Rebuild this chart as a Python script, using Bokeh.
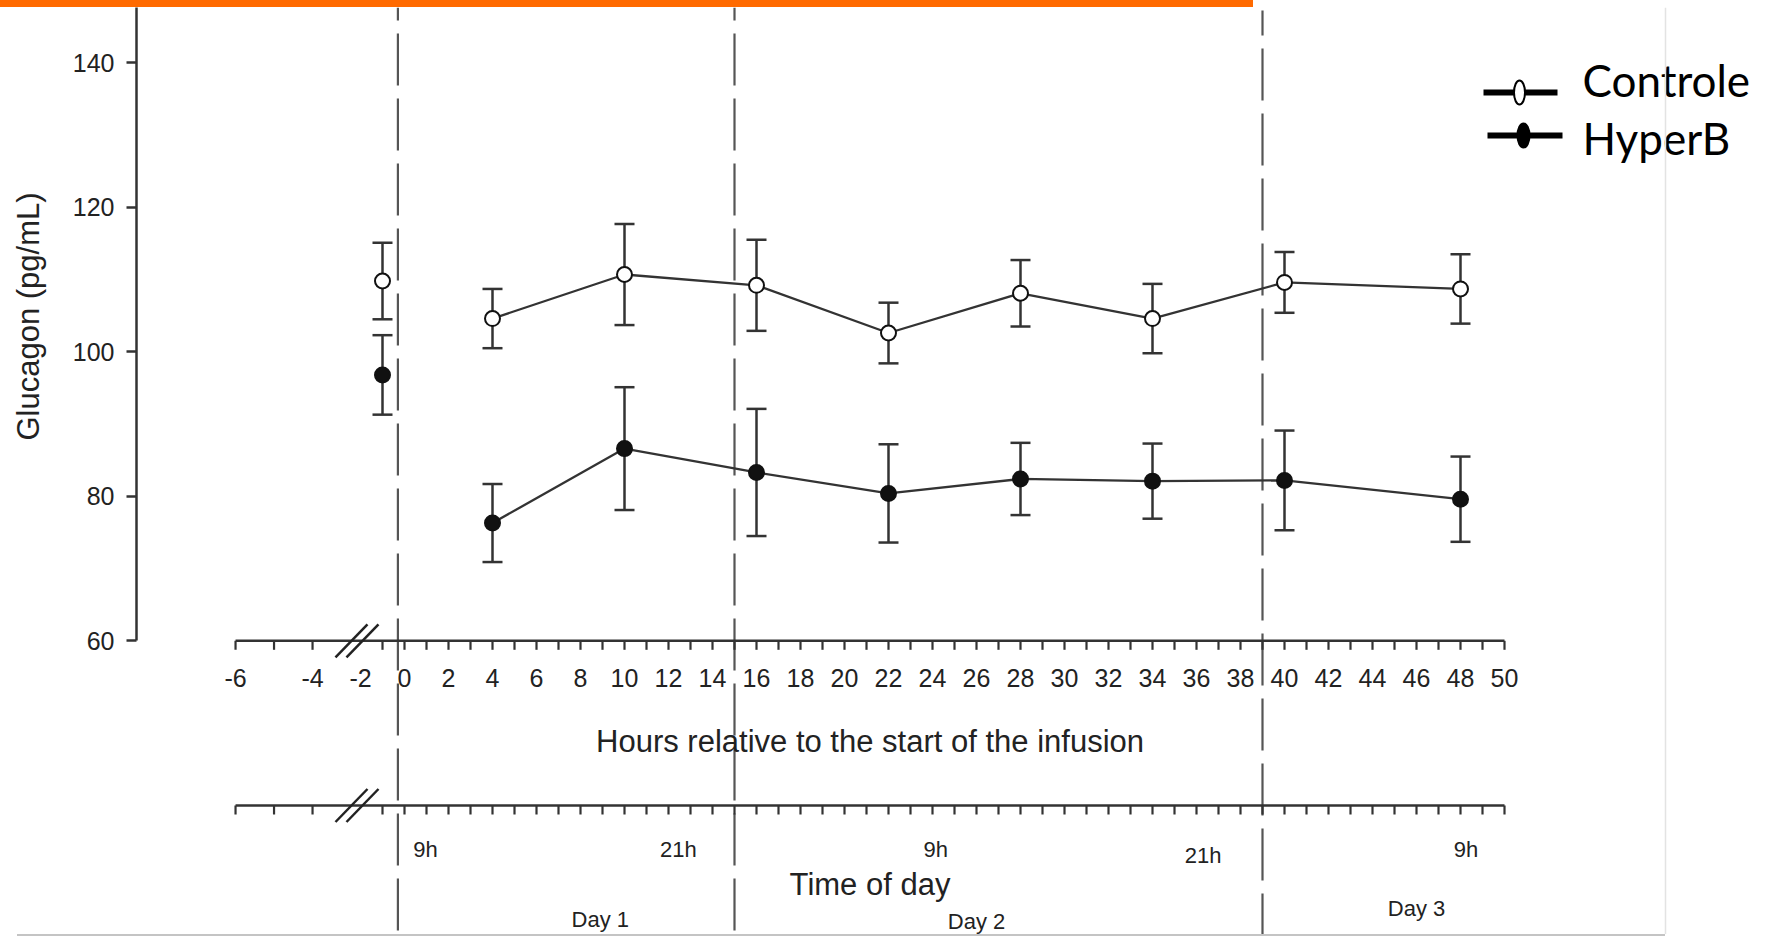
import numpy as np
from bokeh.plotting import figure
from bokeh.models import Range1d, ColumnDataSource, Whisker, TeeHead, FixedTicker, Div
from bokeh.layouts import column, row
from bokeh.core.properties import value
from bokeh.embed import file_html
from bokeh.resources import INLINE

# ---------------------------------------------------------------- data
# sampling times, hours relative to the start of the infusion
hours = [-1, 4, 10, 16, 22, 28, 34, 40, 48]
controle_mean = [109.8, 104.6, 110.7, 109.2, 102.6, 108.1, 104.6, 109.6, 108.7]
controle_sem = [5.3, 4.1, 7.0, 6.3, 4.2, 4.6, 4.8, 4.2, 4.8]
hyperb_mean = [96.8, 76.3, 86.6, 83.3, 80.4, 82.4, 82.1, 82.2, 79.6]
hyperb_sem = [5.5, 5.4, 8.5, 8.8, 6.8, 5.0, 5.2, 6.9, 5.9]

series_names = ["Controle", "HyperB"]

y_ticks = [60, 80, 100, 120, 140]
hour_ticks = [-6, -5, -4, -1] + list(range(0, 51))
hour_tick_labels = [-6, -4, -2] + list(range(0, 51, 2))
day_boundaries = [-0.3, 15, 39]          # infusion start, midnight, midnight
tod_labels = ["9h", "21h", "9h", "21h", "9h"]
tod_label_hours = [0.95, 12.45, 24.15, 36.3, 48.25]
day_labels = ["Day 1", "Day 2", "Day 3"]
day_label_hours = [8.9, 26.0, 46.0]

# ---------------------------------------------------------------- geometry
W, H = 1775, 937
TOP = 7                 # orange rule above the chart
MAIN_H = 927
LABEL_W = 60            # strip holding the vertical y-axis title
FRAME_LEFT = 136
X_ZERO = 404            # canvas x of hour 0
PX_PER_HOUR = 22.0
Y140 = 62.3             # canvas y of 140 pg/mL
PX_PER_UNIT = 7.225
FONT = "Liberation Sans"
INK = "#333333"
TXT = "#222222"


def hx(h):
    """Broken hour axis: the pre-infusion stretch (< -3 h) uses a wider scale."""
    h = np.asarray(h, dtype=float)
    return np.where(h < -3, -4.18 + (h + 4) * 1.75, h)


def canvas_x(h):
    return X_ZERO + PX_PER_HOUR * hx(h)


y_top = 140 + (Y140 - TOP) / PX_PER_UNIT
y_bot = 140 - (TOP + MAIN_H - Y140) / PX_PER_UNIT
y60 = Y140 + (140 - 60) * PX_PER_UNIT       # canvas y of the hour axis
y_tod = 805                                  # canvas y of the time-of-day axis

# ---------------------------------------------------------------- y title strip
lab = figure(width=LABEL_W, height=MAIN_H,
             x_range=Range1d(0, LABEL_W), y_range=Range1d(TOP + MAIN_H, TOP),
             output_backend="svg", toolbar_location=None,
             x_axis_location=None, y_axis_location=None,
             min_border=0, outline_line_color=None,
             background_fill_color="white", border_fill_color="white")
lab.grid.visible = False
lab.text(x=[28], y=[316], text=["Glucagon (pg/mL)"], angle=np.pi / 2,
         text_font=value(FONT), text_font_size="31px", text_color=TXT,
         text_align="center", text_baseline="middle")

# ---------------------------------------------------------------- main plot
p = figure(width=W - LABEL_W, height=MAIN_H,
           x_range=Range1d((FRAME_LEFT - X_ZERO) / PX_PER_HOUR, (W - X_ZERO) / PX_PER_HOUR),
           y_range=Range1d(y_bot, y_top),
           output_backend="svg", toolbar_location=None,
           x_axis_location=None, y_axis_location="left",
           min_border=0, min_border_left=FRAME_LEFT - LABEL_W,
           outline_line_color=None, background_fill_color="white",
           border_fill_color="white")
p.extra_x_ranges = {"px": Range1d(FRAME_LEFT, W)}
p.extra_y_ranges = {"px": Range1d(TOP + MAIN_H, TOP)}
p.grid.visible = False

ya = p.yaxis[0]
ya.ticker = FixedTicker(ticks=y_ticks)
ya.bounds = (60, y_top)
ya.axis_line_color = INK
ya.axis_line_width = 2.5
ya.major_tick_out = 10
ya.major_tick_in = 0
ya.major_tick_line_color = INK
ya.major_tick_line_width = 2.5
ya.minor_tick_line_color = None
ya.major_label_text_font = FONT
ya.major_label_text_font_size = "25px"
ya.major_label_text_color = TXT
ya.major_label_standoff = 12

# ---------------------------------------------------------------- day boundaries
dash_start = [TOP, TOP, 10]
dash_offset = [39, 39, 27]
for hb, y0, off in zip(day_boundaries, dash_start, dash_offset):
    p.segment(x0=[hb], y0=[y0], x1=[hb], y1=[934], y_range_name="px",
              line_color="#555555", line_width=2.2, line_dash="52 13",
              line_dash_offset=off)

# ---------------------------------------------------------------- horizontal axes
tick_x = hx(hour_ticks)
x_mid = float((hx(-6) + hx(50)) / 2)
for ay in (y60, y_tod):
    p.segment(x0=[hx(-6)], y0=[ay], x1=[hx(50)], y1=[ay], y_range_name="px",
              line_color=INK, line_width=2.5)
    p.segment(x0=tick_x, y0=[ay] * len(tick_x), x1=tick_x, y1=[ay + 9] * len(tick_x),
              y_range_name="px", line_color=INK, line_width=2.2)
    # axis break marks
    cx = float(canvas_x(-2.16))
    p.segment(x0=[cx - 21.5, cx - 10.5], y0=[ay + 16.5] * 2,
              x1=[cx + 10.5, cx + 21.5], y1=[ay - 16.5] * 2,
              x_range_name="px", y_range_name="px", line_color=TXT, line_width=2.5)

p.text(x=hx(hour_tick_labels), y=[677] * len(hour_tick_labels),
       text=[str(v) for v in hour_tick_labels], y_range_name="px",
       text_font=value(FONT), text_font_size="25px", text_color=TXT,
       text_align="center", text_baseline="middle")
p.text(x=[x_mid], y=[741], text=["Hours relative to the start of the infusion"],
       y_range_name="px", text_font=value(FONT), text_font_size="31px",
       text_color=TXT, text_align="center", text_baseline="middle")
p.text(x=tod_label_hours, y=[849, 849, 849, 855, 849], text=tod_labels,
       y_range_name="px", text_font=value(FONT), text_font_size="22px",
       text_color=TXT, text_align="center", text_baseline="middle")
p.text(x=[x_mid], y=[884], text=["Time of day"], y_range_name="px",
       text_font=value(FONT), text_font_size="31px", text_color=TXT,
       text_align="center", text_baseline="middle")
p.text(x=day_label_hours, y=[919, 921, 908], text=day_labels, y_range_name="px",
       text_font=value(FONT), text_font_size="22px", text_color=TXT,
       text_align="center", text_baseline="middle")

# ---------------------------------------------------------------- series
for mean, sem, fill in ((controle_mean, controle_sem, "white"),
                        (hyperb_mean, hyperb_sem, "#111111")):
    m = np.array(mean)
    s = np.array(sem)
    src = ColumnDataSource(dict(x=hx(hours), y=m, lo=m - s, hi=m + s))
    p.add_layout(Whisker(base="x", upper="hi", lower="lo", source=src,
                         dimension="height", line_color=INK, line_width=2.5,
                         upper_head=TeeHead(size=20, line_color=INK, line_width=2.5),
                         lower_head=TeeHead(size=20, line_color=INK, line_width=2.5)))
    # the pre-infusion baseline is not joined to the infusion samples
    p.line(x=hx(hours[1:]), y=m[1:], line_color=INK, line_width=2.3)
    p.scatter(x="x", y="y", source=src, marker="circle", size=15,
              fill_color=fill, line_color="#111111", line_width=2)

# ---------------------------------------------------------------- legend
leg_y = [92, 135]
p.segment(x0=[1483, 1487], y0=leg_y, x1=[1557, 1562], y1=leg_y,
          x_range_name="px", y_range_name="px", line_color="black", line_width=6)
p.ellipse(x=[1519, 1523], y=leg_y, width=[11, 12], height=[24, 24],
          width_units="screen", height_units="screen",
          x_range_name="px", y_range_name="px",
          fill_color=["white", "black"], line_color="black", line_width=2)
p.text(x=[1582, 1582], y=[79, 137], text=series_names,
       x_range_name="px", y_range_name="px", text_font=value("Lato"),
       text_font_size="44px", text_color="black",
       text_align="left", text_baseline="alphabetic")

# light page edge on the right
p.segment(x0=[1665], y0=[TOP], x1=[1665], y1=[TOP + MAIN_H],
          x_range_name="px", y_range_name="px", line_color="#e3e3e3", line_width=1.5)

top_rule = Div(text="", width=1253, height=TOP, margin=(0, 0, 0, 0),
               styles={"background-color": "#ff6a00", "overflow": "hidden"})
bottom_rule = Div(text="", width=1648, height=2, margin=(0, 0, 0, 17),
                  styles={"background-color": "#c4c4c4", "overflow": "hidden"})

layout = column(top_rule, row(lab, p, spacing=0), bottom_rule, spacing=0)

open("out.html", "w").write(file_html(layout, INLINE))
